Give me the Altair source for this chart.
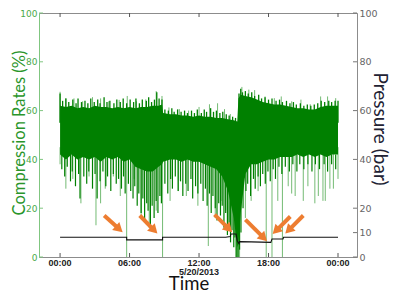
import math
import altair as alt
import pandas as pd

# ---------------- data ----------------
# dense compression-rate band (dark green body): time in hours, % values
band_t = [0, 0.5, 1, 1.5, 2, 2.5, 3, 3.5, 4, 4.5, 5, 5.5, 6, 6.5, 7, 7.5, 8, 8.5, 8.8, 8.9,
          9.5, 10, 10.5, 11, 11.5, 12, 12.5, 13, 13.5, 14, 14.5, 15, 15.3, 15.4, 15.6, 16,
          16.5, 17, 17.5, 18, 18.5, 19, 19.5, 20, 20.5, 21, 21.5, 22, 22.5, 23, 23.5, 24]
band_top = [62, 61.5, 62, 61, 61.5, 61, 62, 61.5, 61.5, 61, 61.5, 61, 61.5, 61, 61.5, 61.5, 62, 62, 62.5, 59,
            58.5, 58.5, 58, 58, 57.5, 58, 57.5, 57.5, 57, 57, 56.5, 56, 55.5, 65, 66.5, 66,
            65.5, 64.5, 63.5, 63, 62.5, 62.5, 62, 61.5, 61, 61, 60.5, 60.5, 61.5, 62, 62, 62]
band_bottom = [42, 40, 42, 40, 41, 40, 41, 39, 41, 40, 41, 39, 40, 37, 36, 35, 35, 37, 38, 39,
               40, 40, 39, 40, 39, 39, 38, 37, 36, 33, 27, 16, 4, 6, 18, 34,
               38, 38, 39, 40, 40, 41, 41, 41, 42, 41, 42, 41, 42, 41, 42, 42]

# light green upward peaks (hour, %)
peaks_light = [(0.0, 67.7), (0.5, 65.1), (1.2, 65), (1.95, 63.8), (2.8, 65.5), (3.5, 65),
               (4.2, 63.8), (5.1, 64.4), (5.8, 66), (6.6, 63.8), (7.4, 64.6), (8.3, 68),
               (8.8, 66), (9.4, 61.3), (10.3, 60.6), (11.1, 60), (12.0, 61.5), (12.9, 62.6),
               (13.6, 63), (14.2, 60.6), (14.7, 58.6), (15.7, 69.7), (16.3, 68.6), (16.8, 68.4),
               (17.7, 65.8), (18.5, 65.1), (19.1, 65.8), (20.0, 63.8), (20.8, 64.5),
               (21.6, 62.6), (22.5, 65.8), (23.1, 65.8), (23.8, 65.1)]
# dark green upward peaks (hour, %)
peaks_dark = [(0.0, 67), (0.22, 64), (0.5, 65), (0.75, 63.5), (1.1, 64.5), (1.38, 63), (1.55, 65),
              (1.85, 63.5), (2.15, 64), (2.4, 63), (2.65, 65), (2.95, 63.5), (3.25, 64.5),
              (3.45, 63), (3.8, 65.5), (4.05, 63.5), (4.3, 64), (4.65, 63), (4.9, 64.5),
              (5.2, 63.5), (5.45, 65), (5.75, 63), (6.05, 64.5), (6.35, 63.5), (6.55, 65),
              (6.85, 63), (7.1, 64.5), (7.45, 64), (7.65, 65.5), (7.9, 63.5), (8.15, 64.5),
              (8.35, 67.5), (8.55, 65), (8.8, 64.5), (9.05, 60.5), (9.35, 60), (9.65, 61),
              (9.85, 59.5), (10.15, 60.5), (10.45, 59.5), (10.75, 60), (11.0, 59), (11.35, 60),
              (11.6, 59), (11.85, 60.5), (12.2, 59), (12.45, 60.5), (12.65, 59.5), (13.0, 61),
              (13.25, 59.5), (13.5, 60), (13.8, 59), (14.05, 59.5), (14.35, 58.5), (14.6, 58),
              (14.9, 57.5), (15.15, 57), (15.45, 67), (15.6, 69), (15.75, 67.5), (16.0, 68),
              (16.25, 67), (16.55, 67.5), (16.8, 66), (17.15, 66.5), (17.4, 65), (17.7, 65.5),
              (18.0, 64.5), (18.3, 65), (18.65, 64), (18.95, 64.5), (19.2, 63.5), (19.55, 64),
              (19.85, 63), (20.15, 63.5), (20.4, 62.5), (20.75, 63), (21.05, 62), (21.35, 62.5),
              (21.65, 62), (21.95, 62.5), (22.25, 63), (22.55, 64), (22.85, 63.5), (23.2, 64),
              (23.45, 63.5), (23.75, 64), (24.0, 64)]

# light green downward spikes (hour, %)
dips_light = [(0.0, 38), (0.5, 28), (1.1, 32), (1.8, 22), (2.5, 33), (3.1, 13), (3.5, 22),
              (3.9, 28), (4.6, 33), (5.2, 25), (5.75, 0), (6.4, 32), (7.0, 16), (7.7, 12),
              (8.3, 19), (8.85, 0), (9.5, 23), (10.2, 27), (10.9, 25), (11.9, 21), (12.8, 4.5),
              (13.4, 16), (13.9, 23), (14.3, 19), (14.5, 13.5), (15.5, 0), (16.0, 16),
              (16.5, 23), (17.1, 27), (17.8, 0), (18.3, 0), (18.8, 23), (19.2, 0), (19.7, 29),
              (20.0, 26), (20.3, 25), (21.0, 23), (21.4, 29), (22.0, 22), (22.3, 25),
              (22.7, 23), (22.9, 23), (23.3, 28), (23.6, 28), (24.0, 32)]
# dark green downward spikes (hour, %)
dips_dark = [(0.15, 36), (0.4, 33), (0.62, 37), (0.9, 31), (1.05, 35), (1.33, 29), (1.6, 34),
             (1.72, 24), (2.05, 33), (2.3, 30), (2.48, 35), (2.8, 28), (3.02, 34), (3.2, 24),
             (3.45, 31), (3.7, 35), (3.95, 29), (4.1, 33), (4.38, 27), (4.6, 34), (4.85, 30),
             (5.05, 32), (5.3, 28), (5.48, 33), (5.62, 26), (5.9, 30), (6.1, 27), (6.3, 24),
             (6.45, 29), (6.66, 21), (6.8, 26), (7.0, 18), (7.15, 24), (7.3, 15), (7.48, 22),
             (7.6, 19), (7.8, 13), (7.95, 21), (8.12, 16), (8.3, 23), (8.45, 18), (8.62, 25),
             (8.75, 22), (9.05, 30), (9.3, 26), (9.55, 32), (9.7, 28), (9.95, 33), (10.2, 27),
             (10.4, 31), (10.6, 25), (10.85, 30), (11.05, 27), (11.3, 32), (11.45, 24),
             (11.7, 29), (11.9, 26), (12.15, 30), (12.35, 23), (12.55, 28), (12.7, 21),
             (12.9, 26), (13.05, 18), (13.2, 25), (13.4, 20), (13.55, 15), (13.7, 22),
             (13.85, 17), (14.0, 21), (14.15, 12), (14.3, 18), (14.45, 9), (14.6, 14),
             (14.72, 6), (14.85, 11), (15.0, 4), (15.1, 8), (15.2, 0), (15.28, 0), (15.38, 0),
             (15.5, 3), (15.62, 10), (15.8, 20), (16.05, 27), (16.2, 30), (16.45, 25),
             (16.7, 32), (16.85, 28), (17.1, 33), (17.3, 29), (17.5, 34), (17.72, 30),
             (17.95, 35), (18.15, 31), (18.4, 36), (18.6, 32), (18.9, 37), (19.15, 34),
             (19.45, 37), (19.8, 35), (20.1, 38), (20.45, 35), (20.7, 38), (21.05, 36),
             (21.4, 38), (21.75, 35), (22.05, 38), (22.4, 36), (22.8, 38), (23.1, 35),
             (23.45, 38), (23.8, 36)]

# pressure (bar)
pressure_t = [0, 5.75, 5.75, 8.85, 8.85, 14.3, 14.7, 14.75, 15.2, 15.3, 15.45, 15.5, 16.5, 18.2,
              18.3, 19.25, 19.3, 24]
pressure_v = [8.1, 8.1, 7.0, 7.0, 8.1, 8.1, 8.4, 9.4, 9.4, 6.6, 5.4, 6.3, 6.2, 6.0,
              7.4, 7.4, 8.1, 8.1]

# orange arrows (tail -> head), hours / axis units
arrow_tail_t = [3.81, 6.88, 13.34, 16.0, 19.88, 21.0]
arrow_tail_v = [17.0, 17.0, 17.4, 15.3, 16.6, 17.0]
arrow_head_t = [5.40, 8.40, 14.86, 17.87, 18.36, 19.45]
arrow_head_v = [10.2, 9.6, 10.2, 6.5, 9.4, 9.6]

left_ticks = [0, 20, 40, 60, 80, 100]
right_ticks = [0, 10, 20, 40, 60, 80, 100]
time_ticks = [0, 6, 12, 18, 24]
time_labels = ["00:00", "06:00", "12:00", "18:00", "00:00"]
date_label = "5/20/2013"
left_title = "Compression Rates (%)"
right_title = "Pressure (bar)"
x_title = "Time"

# ---------------- layout / style ----------------
W, H = 318, 244
PAD = {"left": 31, "top": 5, "right": 36, "bottom": 37}
XDOM = [-1.82, 25.64]
DARK = "#008000"
LIGHT = "#74bb74"
ORANGE = "#ED7D31"
FRAME = "#8c8c8c"
GREEN_AX = "#80c680"
GREEN_LBL = "#4aa94a"
GREEN_TITLE = "#2a952a"

xs = alt.Scale(domain=XDOM, nice=False, zero=False)
ys = alt.Scale(domain=[0, 100], nice=False)


def X(f="t"):
    return alt.X(f"{f}:Q", scale=xs, axis=None)


def Y(f="v"):
    return alt.Y(f"{f}:Q", scale=ys, axis=None)


def pairs(lst):
    return pd.DataFrame(lst, columns=["t", "v"])


# green layers
l_peaks_light = alt.Chart(pairs(peaks_light)).mark_rule(color=LIGHT, strokeWidth=1).encode(
    x=X(), y=Y(), y2=alt.datum(55))
l_dips_light = alt.Chart(pairs(dips_light)).mark_rule(color=LIGHT, strokeWidth=1).encode(
    x=X(), y=Y(), y2=alt.datum(45))
l_band = alt.Chart(pd.DataFrame({"t": band_t, "top": band_top, "bot": band_bottom})).mark_area(
    color=DARK, opacity=1).encode(x=X(), y=Y("top"), y2="bot:Q")
l_peaks_dark = alt.Chart(pairs(peaks_dark)).mark_rule(color=DARK, strokeWidth=1.3).encode(
    x=X(), y=Y(), y2=alt.datum(55))
l_dips_dark = alt.Chart(pairs(dips_dark)).mark_rule(color=DARK, strokeWidth=1.2).encode(
    x=X(), y=Y(), y2=alt.datum(42))

l_pressure = alt.Chart(pd.DataFrame({"t": pressure_t, "v": pressure_v,
                                     "i": list(range(len(pressure_t)))})).mark_line(
    color="#111111", strokeWidth=1.1).encode(x=X(), y=Y(), order="i:Q")

# arrows: compute pixel geometry for heads
px_h = W / (XDOM[1] - XDOM[0])
px_v = H / 100.0
rows = []
for tt, tv, ht, hv in zip(arrow_tail_t, arrow_tail_v, arrow_head_t, arrow_head_v):
    dx = (ht - tt) * px_h
    dy = -(hv - tv) * px_v
    ln = math.hypot(dx, dy)
    ux, uy = dx / ln, dy / ln
    back = 4.6
    ct = ht - back * ux / px_h
    cv = hv + back * uy / px_v
    ang = math.degrees(math.atan2(dx, -dy)) % 360
    rows.append({"tt": tt, "tv": tv, "ct": ct, "cv": cv, "ang": ang})
adf = pd.DataFrame(rows)
l_shafts = alt.Chart(adf).mark_rule(color=ORANGE, strokeWidth=4).encode(
    x=X("tt"), y=Y("tv"), x2="ct:Q", y2="cv:Q")
l_heads = alt.Chart(adf).mark_point(shape="triangle-up", filled=True, size=115, color=ORANGE,
                                    opacity=1, strokeWidth=0).encode(
    x=X("ct"), y=Y("cv"), angle=alt.Angle("ang:Q", scale=None))

# axes (labels) + inward ticks
left_axis = alt.Chart(pd.DataFrame({"v": left_ticks})).mark_rule(color=GREEN_AX).encode(
    y=alt.Y("v:Q", scale=ys, axis=alt.Axis(orient="left", values=left_ticks, ticks=False,
            domain=True, domainColor=GREEN_AX, labelColor=GREEN_LBL, labelFont="DejaVu Sans",
            labelFontSize=9, labelPadding=2, grid=False, title=None)),
    x=alt.value(0), x2=alt.value(4))
right_axis = alt.Chart(pd.DataFrame({"v": right_ticks})).mark_rule(color="#777777").encode(
    y=alt.Y("v:Q", scale=ys, axis=alt.Axis(orient="right", values=right_ticks, ticks=False,
            domain=True, domainColor=FRAME, labelColor="#666666", labelFont="DejaVu Sans",
            labelFontSize=9.5, labelPadding=2, grid=False, title=None)),
    x=alt.value(W - 4), x2=alt.value(W))
bottom_ticks = alt.Chart(pd.DataFrame({"t": time_ticks})).mark_rule(color="#555555").encode(
    x=X(), y=alt.value(H - 4), y2=alt.value(H))
top_ticks = alt.Chart(pd.DataFrame({"t": time_ticks})).mark_rule(color="#555555").encode(
    x=X(), y=alt.value(0), y2=alt.value(4))
bottom_labels = alt.Chart(pd.DataFrame({"t": time_ticks, "lab": time_labels})).mark_text(
    font="Liberation Sans", fontWeight="bold", fontSize=9, color="#222222",
    baseline="top", align="center").encode(x=X(), y=alt.value(H + 2), text="lab:N")

one = pd.DataFrame({"t": [12]})
date_text = alt.Chart(one).mark_text(font="Liberation Sans", fontWeight="bold", fontSize=9,
                                     color="#222222", baseline="top", align="center").encode(
    x=X(), y=alt.value(H + 10.5), text=alt.value(date_label))
time_text = alt.Chart(one).mark_text(font="Lato", fontSize=18.5, color="#111111",
                                     baseline="alphabetic", align="center").encode(
    x=alt.value(150), y=alt.value(H + 33), text=alt.value(x_title))
ltitle = alt.Chart(one).mark_text(font="Lato", fontSize=16.5, color=GREEN_TITLE, angle=270,
                                  baseline="top", align="center").encode(
    x=alt.value(-27.5), y=alt.value(H / 2 - 2), text=alt.value(left_title))
rtitle = alt.Chart(one).mark_text(font="Lato", fontSize=19, color="#222233", angle=90,
                                  baseline="top", align="center").encode(
    x=alt.value(W + 32), y=alt.value(H / 2 - 6), text=alt.value(right_title))

chart = alt.layer(
    l_peaks_light, l_dips_light, l_band, l_peaks_dark, l_dips_dark, l_pressure, l_shafts, l_heads,
    left_axis, right_axis, bottom_ticks, top_ticks, bottom_labels, date_text, time_text,
    ltitle, rtitle
).resolve_axis(y="independent").properties(
    width=W, height=H, padding=PAD, autosize=alt.AutoSizeParams(type="none")
).configure_view(stroke=FRAME, strokeWidth=1)

chart.save("out.html", embed_options={"renderer": "svg", "actions": False})
